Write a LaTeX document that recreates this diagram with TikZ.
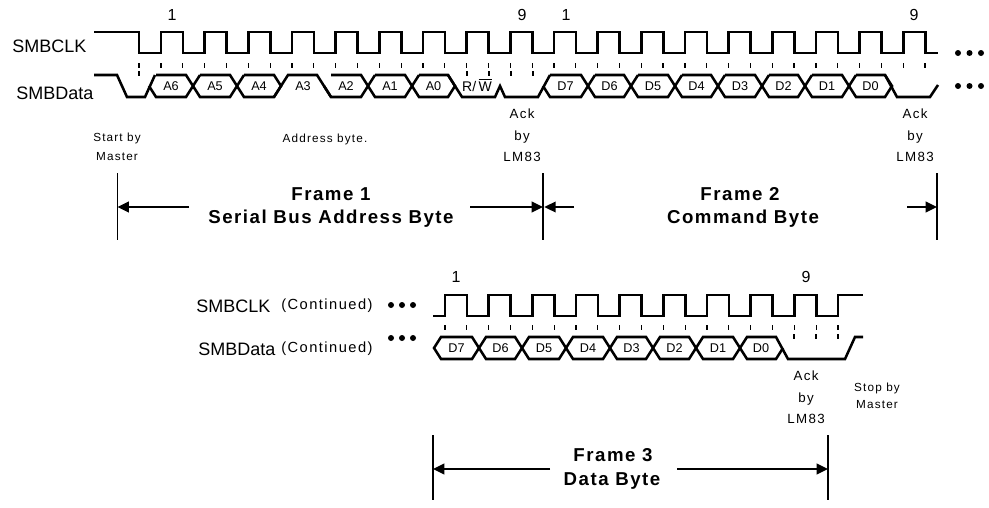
\documentclass[tikz,border=0pt]{standalone}
\usepackage{amsmath}
\usepackage{fontspec}
\setmainfont{Liberation Sans}
\newfontfamily\thinfont[LetterSpace=10]{Liberation Sans}
\newfontfamily\framefont[LetterSpace=8]{Liberation Sans Bold}
\usepackage{tikz}
\usetikzlibrary{arrows.meta}
\tikzset{
  sig/.style={line width=1.9pt,line join=miter},
  tick/.style={line width=0.9pt},
  limit/.style={line width=0.9pt},
  span/.style={line width=1.2pt,-{Triangle[length=8.5pt,width=8pt]}},
  busname/.style={inner sep=0pt,font=\fontsize{13.5}{15}\selectfont},
  cell/.style={inner sep=0pt,font=\fontsize{9.5}{11}\selectfont},
  note/.style={inner sep=0pt,font=\fontsize{8.8}{10}\thinfont},
  ack/.style={inner sep=0pt,font=\fontsize{10}{12}\thinfont},
  contd/.style={inner sep=0pt,font=\fontsize{11}{13}\thinfont},
  count/.style={inner sep=0pt,font=\fontsize{12}{14}\selectfont},
  title/.style={inner sep=0pt,font=\fontsize{14}{16}\framefont},
}
\begin{document}
\begin{tikzpicture}[x=0.75pt,y=-0.75pt]
      \useasboundingbox (0,0) rectangle (989,507);

      % first row, clock
      \draw[sig] (94,32) -- (139,32) -- (139,53)
      \foreach \k in {0,...,17} { -- (161+43.67*\k,53) -- ++(0,-21) -- ++(22,0) -- ++(0,21) }
      -- (938,53);
      \node[busname,anchor=west] (clkA) at (12,46) {SMBCLK};
      \node[count] (oneA) at (172,15) {1};
      \node[count] (nineA) at (522,15) {9};
      \node[count] (oneB) at (566,15) {1};
      \node[count] (nineB) at (914,15) {9};
      \foreach \k in {0,...,35} \draw[tick] (161+21.83*\k,63) -- ++(0,4.5);
      \draw[tick] (139,63) -- ++(0,4.5);
      \foreach \x in {139,467,489,511,533} \draw[tick] (\x,71) -- ++(0,4.5);
      \foreach \k in {0,1,2} {
        \fill (958+11.5*\k,53) circle (3);
        \fill (958+11.5*\k,86) circle (3);
      }

      % first row, data
      \node[busname,anchor=west] (datA) at (16,93) {SMBData};
      \draw[sig] (94,75) -- (117,75) -- (127,97) -- (145,97) -- (155,75);
      \foreach \a/\b/\lab in {149/193/A6,193/237/A5,237/281/A4,324/368/A2,368/412/A1,412/455/A0,
        543/588/D7,588/631/D6,631/675/D5,675/718/D4,718/762/D3,762/805/D2,805/849/D1,849/892/D0} {
        \draw[sig] (\a+7,75) -- (\b-7,75) -- (\b,86) -- (\b-7,97) -- (\a+7,97) -- (\a,86);
        \node[cell] (cell\lab) at ({(\a+\b)/2},86) {\lab};
      }
      \foreach \a in {193,237,368,412,588,631,675,718,762,805,849} \draw[sig] (\a,86) -- (\a+7,75);
      \draw[sig] (274,97) -- (288,75) -- (317,75) -- (331,97);
      \node[cell] (cellA3) at (303,86) {A3};
      \draw[sig] (448,75) -- (462,97) -- (495,97) -- (500,86) -- (505,97) -- (538,97) -- (550,75);
      \draw[sig] (885,75) -- (897,97) -- (930,97) -- (938,85);
      \node[cell,font=\fontsize{10.5}{12}\selectfont] (cellRW) at (477,85) {R/\,$\overline{\mbox{W}}$};

      % notes under first row
      \node[note,align=center] (start) at (117,147) {Start by\\[4pt]Master};
      \node[note] (addr) at (325,139) {Address byte.};
      \node[ack,align=center] (ackA) at (522,135.5) {Ack\\[4pt]by\\[4pt]LM83};
      \node[ack,align=center] (ackB) at (915,135.5) {Ack\\[4pt]by\\[4pt]LM83};

      % frames 1 and 2
      \coordinate (frL) at (117.5,207);
      \coordinate (frM) at (543,207);
      \coordinate (frR) at (937,207);
      \coordinate (knkA) at (189,207);
      \coordinate (knkB) at (470,207);
      \coordinate (knkC) at (574,207);
      \coordinate (knkD) at (907,207);
      \foreach \n in {frL,frM,frR} \draw[limit] (\n) ++(0,-34) -- ++(0,67);
      \draw[span] (knkA) -- (frL);
      \draw[span] (knkB) -- (frM);
      \draw[span] (knkC) -- ([xshift=1pt]frM);
      \draw[span] (knkD) -- (frR);
      \node[title] (frmA) at (331,194) {Frame 1};
      \node[title] (subA) at (331,218.5) {Serial Bus Address Byte};
      \node[title] (frmB) at (740,194) {Frame 2};
      \node[title] (subB) at (743,219) {Command Byte};

      % second row, clock
      \draw[sig] (433,316)
      \foreach \k in {0,...,8} { -- (445+43.67*\k,316) -- ++(0,-21) -- ++(22,0) -- ++(0,21) }
      -- (838,316) -- (838,295) -- (863,295);
      \node[busname,anchor=west] (clkB) at (196,306) {SMBCLK};
      \node[contd,anchor=west] (contA) at (281,306) {(Continued)};
      \node[count] (oneC) at (456,277) {1};
      \node[count] (nineC) at (806,277) {9};
      \foreach \k in {0,...,18} \draw[tick] (445+21.83*\k,325) -- ++(0,4.5);
      \foreach \x in {794,816,838} \draw[tick] (\x,334) -- ++(0,4.5);
      \foreach \k in {0,1,2} {
        \fill (391+11*\k,305) circle (3);
        \fill (391+11*\k,338) circle (3);
      }

      % second row, data
      \node[busname,anchor=west] (datB) at (198,349) {SMBData};
      \node[contd,anchor=west] (contB) at (281,349) {(Continued)};
      \foreach \a/\b/\lab in {434/479/D7,479/522/D6,522/566/D5,566/610/D4,610/653/D3,653/696/D2,696/740/D1} {
        \draw[sig] (\a,348) -- (\a+7,337) -- (\b-7,337) -- (\b,348) -- (\b-7,359) -- (\a+7,359) -- cycle;
        \node[cell] (cnt\lab) at ({(\a+\b)/2},348) {\lab};
      }
      \draw[sig] (740,348) -- (747,337) -- (776,337) -- (788,359) -- (845,359) -- (855,337) -- (863,337);
      \draw[sig] (740,348) -- (747,359) -- (776,359) -- (783,348);
      \node[cell] (cntD0) at (761,348) {D0};

      % notes under second row
      \node[ack,align=center] (ackC) at (806,397.5) {Ack\\[4pt]by\\[4pt]LM83};
      \node[note,align=center] (stop) at (877,396) {Stop by\\[3pt]Master};

      % frame 3
      \coordinate (frS) at (433,469);
      \coordinate (frE) at (828,469);
      \coordinate (knkE) at (550,469);
      \coordinate (knkF) at (677,469);
      \foreach \n in {frS,frE} \draw[limit] (\n) ++(0,-34) -- ++(0,65);
      \draw[span] (knkE) -- (frS);
      \draw[span] (knkF) -- (frE);
      \node[title] (frmC) at (613,455.5) {Frame 3};
      \node[title] (subC) at (612,481) {Data Byte};
\end{tikzpicture}
\end{document}
